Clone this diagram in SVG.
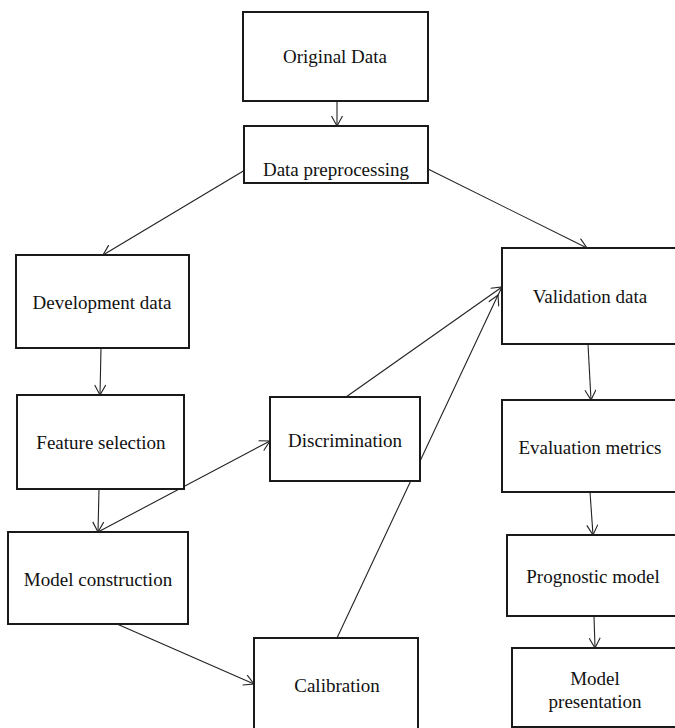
<svg xmlns="http://www.w3.org/2000/svg" width="675" height="728" viewBox="0 0 675 728">
<defs>
<style>
.box{fill:#fff;stroke:#1a1a1a;stroke-width:2}
.lbl{font-family:'Liberation Serif','Times New Roman',Times,'DejaVu Serif',serif;font-size:19px;fill:#111;text-anchor:middle}
.con{stroke:#222;stroke-width:1.1;fill:none;marker-end:url(#arr)}
</style>
<marker id="arr" viewBox="0 0 12 12" markerUnits="userSpaceOnUse" markerWidth="12" markerHeight="12" refX="11" refY="6" orient="auto">
<path d="M1,0.5 L11,6 L1,11.5" fill="none" stroke="#222" stroke-width="1.1"/>
</marker>
</defs>
<rect width="675" height="728" fill="#fff"/>
<g id="connectors">
<line class="con" x1="337" y1="101" x2="337" y2="126"/>
<line class="con" x1="245" y1="170" x2="103" y2="255"/>
<line class="con" x1="428" y1="169" x2="587" y2="248"/>
<line class="con" x1="101" y1="348" x2="100" y2="395"/>
<line class="con" x1="99" y1="489" x2="98" y2="532"/>
<line class="con" x1="98" y1="532" x2="270" y2="441"/>
<line class="con" x1="346" y1="397" x2="502" y2="287"/>
<line class="con" x1="337" y1="638" x2="498" y2="295"/>
<line class="con" x1="117" y1="624" x2="254" y2="684"/>
<line class="con" x1="588" y1="344" x2="591" y2="400"/>
<line class="con" x1="590" y1="492" x2="593" y2="535"/>
<line class="con" x1="594" y1="616" x2="595" y2="648"/>
</g>
<g id="original-data"><rect class="box" x="243" y="12" width="185" height="89"/><text class="lbl" x="335" y="63" font-family="Liberation Serif, serif">Original Data</text></g>
<g id="data-preprocessing"><rect class="box" x="244" y="126" width="184" height="57"/><text class="lbl" x="336" y="176">Data preprocessing</text></g>
<g id="development-data"><rect class="box" x="16" y="255" width="173" height="93"/><text class="lbl" x="102" y="309">Development data</text></g>
<g id="validation-data"><rect class="box" x="502" y="248" width="176" height="96"/><text class="lbl" x="590" y="303">Validation data</text></g>
<g id="feature-selection"><rect class="box" x="17" y="395" width="167" height="94"/><text class="lbl" x="101" y="449">Feature selection</text></g>
<g id="discrimination"><rect class="box" x="270" y="397" width="150" height="84"/><text class="lbl" x="345" y="447">Discrimination</text></g>
<g id="model-construction"><rect class="box" x="8" y="532" width="180" height="92"/><text class="lbl" x="98" y="586">Model construction</text></g>
<g id="calibration"><rect class="box" x="254" y="638" width="164" height="100"/><text class="lbl" x="337" y="692">Calibration</text></g>
<g id="evaluation-metrics"><rect class="box" x="502" y="400" width="176" height="92"/><text class="lbl" x="590" y="454">Evaluation metrics</text></g>
<g id="prognostic-model"><rect class="box" x="507" y="535" width="171" height="81"/><text class="lbl" x="593" y="583">Prognostic model</text></g>
<g id="model-presentation"><rect class="box" x="512" y="648" width="166" height="79"/><text class="lbl" x="595" y="685">Model</text><text class="lbl" x="595" y="708">presentation</text></g>
</svg>
